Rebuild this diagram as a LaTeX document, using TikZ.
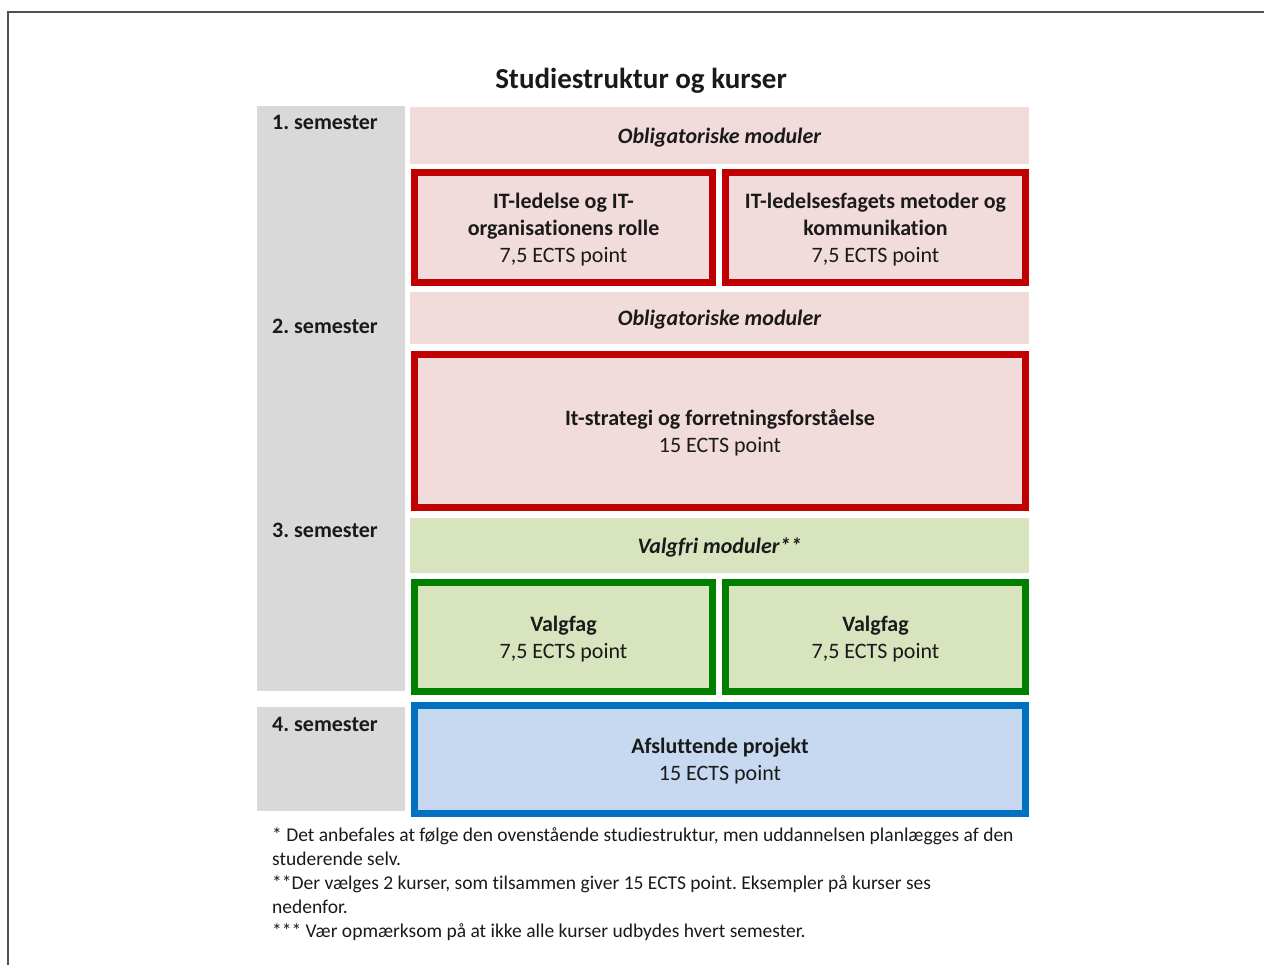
\documentclass[tikz,border=0pt]{standalone}
\usepackage{fontspec}
\setmainfont{Carlito}[Ligatures=CommonOff]
\frenchspacing
\definecolor{graybg}{HTML}{D9D9D9}
\definecolor{pinkbg}{HTML}{F2DCDB}
\definecolor{redline}{HTML}{C00000}
\definecolor{greenbg}{HTML}{D7E4BD}
\definecolor{greenline}{HTML}{008000}
\definecolor{bluebg}{HTML}{C6D9F1}
\definecolor{blueline}{HTML}{0070C0}
\definecolor{frameline}{HTML}{505050}
\definecolor{txt}{HTML}{1A1A1A}
\tikzset{
  base/.style={inner sep=0pt, outer sep=0pt, align=center, text=txt,
    font=\fontsize{22}{27}\selectfont},
  boxtext/.style={base, yshift=-2pt},
  headtext/.style={base, yshift=-2pt, font=\fontsize{22}{27}\selectfont\bfseries\itshape},
  plainbox/.style={inner sep=0pt, outer sep=0pt},
  redbox/.style={plainbox, draw=redline, fill=pinkbg, line width=7pt},
  greenbox/.style={plainbox, draw=greenline, fill=greenbg, line width=7pt},
  bluebox/.style={plainbox, draw=blueline, fill=bluebg, line width=7pt},
  semlabel/.style={inner sep=0pt, anchor=base west, text=txt,
    font=\fontsize{22}{27}\selectfont\bfseries},
  footnote/.style={inner sep=0pt, anchor=base west, text=txt,
    font=\fontsize{19.5}{24}\selectfont},
}
\begin{document}
\begin{tikzpicture}[x=1pt,y=-1pt]
\useasboundingbox (0,0) rectangle (1264,965);
% frame
\draw[frameline, line width=2pt] (8,965) -- (8,12) -- (1264,12);
% title
\node[inner sep=0pt, anchor=base, text=txt, font=\fontsize{29}{34}\selectfont\bfseries] (title) at (641,89) {Studiestruktur og kurser};
% semester column
\fill[graybg] (257,106) rectangle (405,691);
\fill[graybg] (257,707) rectangle (405,811);
\node[semlabel] (s1) at (272,130) {1. semester};
\node[semlabel] (s2) at (272,334) {2. semester};
\node[semlabel] (s3) at (272,537) {3. semester};
\node[semlabel] (s4) at (272,731) {4. semester};
% semester 1
\node[plainbox, fill=pinkbg, minimum width=619pt, minimum height=57pt] (h1) at (719.5,135.5) {};
\node[headtext] (h1t) at (h1.center) {Obligatoriske moduler};
\node[redbox, minimum width=298pt, minimum height=110pt] (m1) at (563.5,227.5) {};
\node[boxtext] (m1t) at (m1.center)
  {\bfseries IT-ledelse og IT-\\\bfseries organisationens rolle\\7,5 ECTS point};
\node[redbox, minimum width=300pt, minimum height=110pt] (m2) at (875.5,227.5) {};
\node[boxtext] (m2t) at (m2.center)
  {\bfseries IT-ledelsesfagets metoder og\\\bfseries kommunikation\\7,5 ECTS point};
% semester 2
\node[plainbox, fill=pinkbg, minimum width=619pt, minimum height=52pt] (h2) at (719.5,318) {};
\node[headtext] (h2t) at (h2.center) {Obligatoriske moduler};
\node[redbox, minimum width=611pt, minimum height=153pt] (m3) at (720,431) {};
\node[boxtext] (m3t) at (m3.center)
  {\bfseries It-strategi og forretningsforståelse\\15 ECTS point};
% semester 3
\node[plainbox, fill=greenbg, minimum width=619pt, minimum height=55pt] (h3) at (719.5,545.5) {};
\node[headtext] (h3t) at (h3.center) {Valgfri moduler**};
\node[greenbox, minimum width=298pt, minimum height=109pt] (v1) at (563.5,637) {};
\node[boxtext] (v1t) at (v1.center) {\bfseries Valgfag\\7,5 ECTS point};
\node[greenbox, minimum width=300pt, minimum height=109pt] (v2) at (875.5,637) {};
\node[boxtext] (v2t) at (v2.center) {\bfseries Valgfag\\7,5 ECTS point};
% semester 4
\node[bluebox, minimum width=611pt, minimum height=108pt] (p) at (720,759.5) {};
\node[boxtext] (pt) at (p.center) {\bfseries Afsluttende projekt\\15 ECTS point};
% footnotes
\node[footnote] (f1) at (272,841) {* Det anbefales at følge den ovenstående studiestruktur, men uddannelsen planlægges af den};
\node[footnote] (f2) at (272,865) {studerende selv.};
\node[footnote] (f3) at (272,889) {**Der vælges 2 kurser, som tilsammen giver 15 ECTS point. Eksempler på kurser ses};
\node[footnote] (f4) at (272,913) {nedenfor.};
\node[footnote] (f5) at (272,937) {*** Vær opmærksom på at ikke alle kurser udbydes hvert semester.};
\end{tikzpicture}
\end{document}
